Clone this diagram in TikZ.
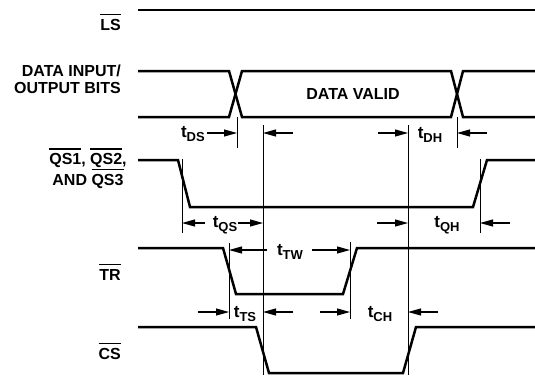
\documentclass[tikz,border=0pt]{standalone}
\usepackage{fontspec}
\setmainfont{Liberation Sans}
\usetikzlibrary{arrows.meta}
\newcommand\ovl[1]{\setbox0\hbox{#1}\rlap{\rule[15pt]{\wd0}{1.3pt}}\box0}
\newcommand\tsub[1]{t\raisebox{-4.5pt}{\fontsize{13}{14}\selectfont #1}}
\begin{document}
\begin{tikzpicture}[x=1pt,y=-1pt,
  sig/.style={line width=2.5pt, line join=miter},
  vline/.style={line width=0.9pt},
  dim/.style={line width=1.1pt, -{Triangle[length=13pt,width=7pt]}},
  lab/.style={font=\fontsize{16}{17.5}\selectfont\bfseries, inner sep=0pt},
  tl/.style={font=\fontsize{17}{18}\selectfont\bfseries, inner sep=0pt},
]
\useasboundingbox (0,0) rectangle (535,375);
% ---- labels
\node[lab, anchor=base east] (lsl) at (121,30) {\ovl{LS}};
\node[lab, anchor=base east, align=right] (datal) at (121,93.5) {DATA INPUT/\\OUTPUT BITS};
\node[lab, anchor=base, align=center] (qsl) at (88,185) {\ovl{QS1}, \ovl{QS2},\\AND \ovl{QS3}};
\node[lab, anchor=base east] (trl) at (121,280) {\ovl{TR}};
\node[lab, anchor=base east] (csl) at (121,359) {\ovl{CS}};
\node[lab] (valid) at (353,94) {DATA VALID};
% ---- waveforms
\draw[sig] (138,10) -- (535,10);
\draw[sig] (138,71) -- (229,71) -- (242,117) -- (451,117) -- (463,71) -- (535,71);
\draw[sig] (138,117) -- (229,117) -- (242,71) -- (451,71) -- (463,117) -- (535,117);
\draw[sig] (138,160) -- (178,160) -- (190,207) -- (473,207) -- (487,160) -- (535,160);
\draw[sig] (138,248) -- (223,248) -- (236,294) -- (343,294) -- (357,248) -- (535,248);
\draw[sig] (138,327) -- (256,327) -- (269,373) -- (403,373) -- (416,327) -- (535,327);
% ---- reference lines
\coordinate (vA) at (263,125); \coordinate (vAb) at (263,375);
\coordinate (vB) at (408,125); \coordinate (vBb) at (408,375);
\draw[vline] (vA) -- (vAb);
\draw[vline] (vB) -- (vBb);
\draw[vline] (237,117) -- (237,148);
\draw[vline] (457,117) -- (457,148);
\draw[vline] (182,159) -- (182,233);
\draw[vline] (480,159) -- (480,233);
\draw[vline] (229,243) -- (229,319);
\draw[vline] (350,242) -- (350,319);
% ---- tDS / tDH
\node[tl, anchor=east] (tds) at (205,134) {\tsub{DS}};
\draw[dim] (207,133) -- (237,133);
\draw[dim] (293,133) -- (263,133);
\node[tl] (tdh) at (430,135) {\tsub{DH}};
\draw[dim] (378,133) -- (408,133);
\draw[dim] (487,133) -- (457,133);
% ---- tQS / tQH
\node[tl] (tqs) at (225,225) {\tsub{QS}};
\draw[dim] (205,223) -- (182,223);
\draw[dim] (238,223) -- (263,223);
\node[tl] (tqh) at (447,225) {\tsub{QH}};
\draw[dim] (377,223) -- (408,223);
\draw[dim] (510,223) -- (480,223);
% ---- tTW
\node[tl] (ttw) at (290,252) {\tsub{TW}};
\draw[dim] (267,250) -- (229,250);
\draw[dim] (312,250) -- (350,250);
% ---- tTS / tCH
\node[tl] (tts) at (245,314) {\tsub{TS}};
\draw[dim] (198,312) -- (229,312);
\draw[dim] (293,312) -- (263,312);
\node[tl] (tch) at (380,314) {\tsub{CH}};
\draw[dim] (320,312) -- (350,312);
\draw[dim] (438,312) -- (408,312);
\end{tikzpicture}
\end{document}
